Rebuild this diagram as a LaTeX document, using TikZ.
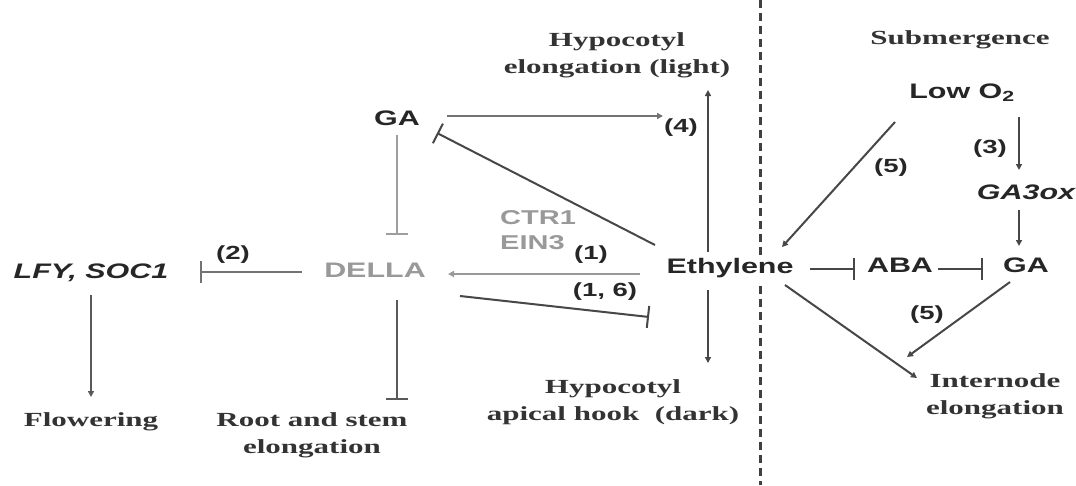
\documentclass[tikz,border=0pt]{standalone}
\usepackage{fontspec}
\setmainfont{Liberation Serif}
\newfontfamily\sfb{Liberation Sans}[FakeStretch=1.45]
\newfontfamily\rmb{Liberation Serif}[FakeStretch=1.55]
\usetikzlibrary{arrows.meta,calc}
\begin{document}
\begin{tikzpicture}[x=1pt,y=-1pt,
  lbl/.style={font=\sfb\bfseries\fontsize{21}{24}\selectfont, text=black!85, inner sep=0pt},
  glbl/.style={lbl, text=black!40},
  num/.style={font=\sfb\bfseries\fontsize{19}{22}\selectfont, text=black!85, inner sep=0pt},
  outc/.style={font=\rmb\bfseries\fontsize{20}{27}\selectfont, text=black!80, align=center, inner sep=0pt},
  ln/.style={line width=2pt, draw=black!72},
  arr/.style={ln, -{Triangle[length=6pt,width=6pt]}},
  inh/.style={ln, -{Bar[width=22pt]}},
]
\useasboundingbox (0,0) rectangle (1076,485);
\fill[white] (0,0) rectangle (1076,485);
% divider
\draw[line width=3pt, black!75, dash pattern=on 8pt off 5pt] (760,0) -- (760,485);

% nodes
\node[outc] (HypT) at (617,55) {Hypocotyl\\elongation (light)};
\node[outc] (Sub) at (960,40) {Submergence};
\node[lbl] (GA) at (397,118) {GA};
\node[glbl] (DELLA) at (375,270) {DELLA};
\node[lbl] (LFY) at (91,273) {\itshape LFY, SOC1};
\node[lbl, fill=white, inner ysep=3pt] (Eth) at (730,268) {Ethylene};
\node[lbl] (LowO) at (962,93) {Low O\textsubscript{2}};
\node[lbl] (GAox) at (1026,192) {\itshape GA3ox};
\node[lbl] (GAb) at (1026,265) {GA};
\node[lbl] (ABA) at (900,265) {ABA};
\node[glbl, font=\sfb\bfseries\fontsize{20}{23}\selectfont, anchor=west] (CTR) at (500,218) {CTR1};
\node[glbl, font=\sfb\bfseries\fontsize{20}{23}\selectfont, anchor=west] (EIN) at (500,243) {EIN3};
\node[outc] (Flow) at (91,422) {Flowering};
\node[outc] (Root) at (312,435) {Root and stem\\elongation};
\node[outc] (HypB) at (613,402) {Hypocotyl\\apical hook\ \ (dark)};
\node[outc] (Int) at (995,396) {Internode\\elongation};

% numeric labels
\node[num] (n4) at (681,128) {(4)};
\node[num] (n1) at (591,255) {(1)};
\node[num] (n16) at (605,292) {(1, 6)};
\node[num] (n2) at (233,255) {(2)};
\node[num] (n5a) at (891,168) {(5)};
\node[num] (n3) at (990,149) {(3)};
\node[num] (n5b) at (927,315) {(5)};

% connectors
\draw[arr, draw=black!55] ($(GA)+(50,-2)$) -- ($(GA)+(266,-2)$);
\draw[arr] ($(Eth)+(-22,-16)$) -- ($(HypT)+(91,35)$);
\draw[arr] ($(Eth)+(-22,22)$) -- ($(HypB)+(95,-39)$);
\draw[inh] ($(Eth)+(-75,-23)$) -- ($(GA)+(40,15)$);
\draw[arr, draw=black!40] ($(Eth)+(-90,6)$) -- ($(DELLA)+(73,4)$);
\draw[inh] ($(DELLA)+(85,26)$) -- ($(DELLA)+(274,47)$);
\draw[inh, draw=black!38] ($(GA)+(0,17)$) -- ($(DELLA)+(22,-35)$);
\draw[inh, draw=black!65] ($(DELLA)+(22,30)$) -- ($(Root)+(85,-35)$);
\draw[inh, draw=black!55] ($(DELLA)+(-73,2)$) -- ($(LFY)+(109,-1)$);
\draw[arr, draw=black!65] ($(LFY)+(0,22)$) -- ($(Flow)+(0,-25)$);
\draw[arr] ($(LowO)+(-67,29)$) -- ($(Eth)+(52,-21)$);
\draw[arr] ($(LowO)+(57,24)$) -- ($(GAox)+(-7,-22)$);
\draw[arr] ($(GAox)+(-7,18)$) -- ($(GAb)+(-7,-19)$);
\draw[inh] ($(Eth)+(80,1)$) -- ($(ABA)+(-45,4)$);
\draw[inh] ($(ABA)+(38,4)$) -- ($(GAb)+(-43,4)$);
\draw[arr] ($(GAb)+(-16,17)$) -- ($(Int)+(-88,-39)$);
\draw[arr] ($(Eth)+(55,17)$) -- ($(Int)+(-78,-18)$);
\end{tikzpicture}
\end{document}
